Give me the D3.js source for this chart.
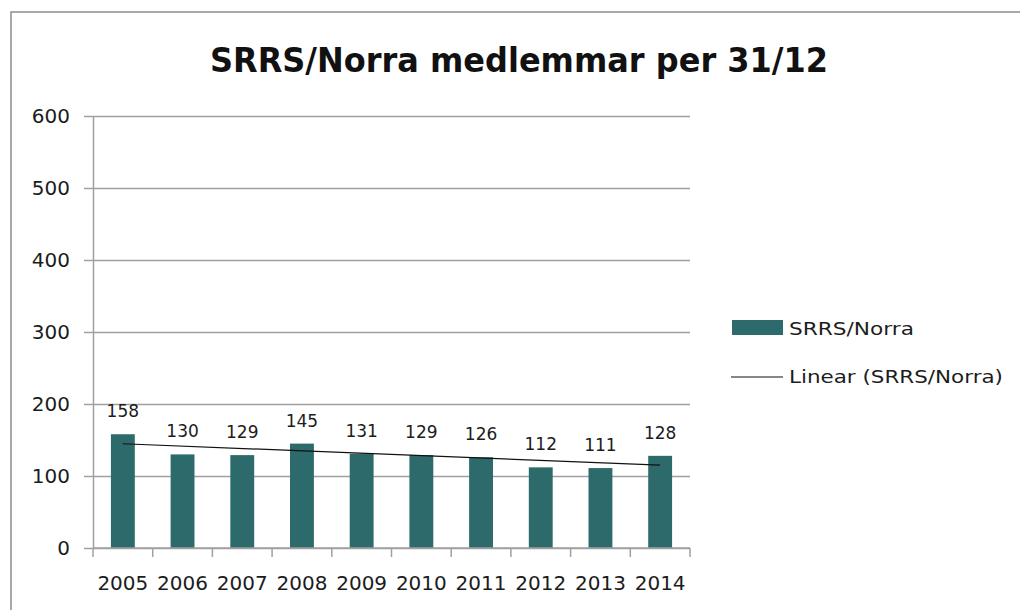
<!DOCTYPE html>
<html>
<head>
<meta charset="utf-8">
<script src="https://cdn.jsdelivr.net/npm/d3@7"></script>
<style>
  body { margin: 0; background: #fff; }
  svg { display: block; font-family: "DejaVu Sans", sans-serif; }
</style>
</head>
<body>
<div id="chart"></div>
<script>
const years = ['2005', '2006', '2007', '2008', '2009', '2010', '2011', '2012', '2013', '2014']
const members = [158, 130, 129, 145, 131, 129, 126, 112, 111, 128]
const yTicks = [0, 100, 200, 300, 400, 500, 600]
const seriesName = 'SRRS/Norra'
const trendName = 'Linear (SRRS/Norra)'
const titleText = 'SRRS/Norra medlemmar per 31/12'

const width = 1020
const height = 610
const plot = {left: 93, right: 690, top: 116, bottom: 548}
const barColor = '#2d6a6c'
const gridColor = '#a0a0a0'
const textColor = '#1c1c1c'

const svg = d3.select('#chart')
  .append('svg')
  .attr('width', width)
  .attr('height', height)

// outer chart frame
svg.append('rect')
  .attr('x', 11).attr('y', 12)
  .attr('width', width + 10).attr('height', height + 10)
  .attr('fill', 'none')
  .attr('stroke', '#8c8c8c')
  .attr('stroke-width', 1.5)

svg.append('text')
  .attr('x', 519).attr('y', 72)
  .attr('text-anchor', 'middle')
  .attr('font-size', 34)
  .attr('font-weight', 'bold')
  .attr('fill', '#111')
  .attr('textLength', 618)
  .attr('lengthAdjust', 'spacingAndGlyphs')
  .text(titleText)

const x = d3.scaleBand()
  .domain(years)
  .range([plot.left, plot.right])
  .paddingInner(0.6)
  .paddingOuter(0.3)

const y = d3.scaleLinear()
  .domain([0, 600])
  .range([plot.bottom, plot.top])

// gridlines
svg.append('g')
  .attr('transform', `translate(${plot.left},0)`)
  .call(d3.axisLeft(y).tickValues(yTicks).tickSize(-(plot.right - plot.left)).tickFormat(''))
  .call(g => g.select('.domain').remove())
  .call(g => g.selectAll('line').attr('stroke', gridColor).attr('stroke-width', 1.5))

// y axis
svg.append('g')
  .attr('transform', `translate(${plot.left},0)`)
  .call(d3.axisLeft(y).tickValues(yTicks).tickSize(9).tickSizeOuter(0).tickPadding(14))
  .call(g => g.select('.domain').attr('stroke', gridColor).attr('stroke-width', 1.5))
  .call(g => g.selectAll('line').attr('stroke', gridColor).attr('stroke-width', 1.5))
  .call(g => g.selectAll('text').attr('font-size', 20).attr('fill', textColor).attr('font-family', 'DejaVu Sans'))

// bars
svg.append('g')
  .selectAll('rect')
  .data(members)
  .enter()
  .append('rect')
  .attr('x', (d, i) => x(years[i]))
  .attr('y', d => y(d))
  .attr('width', x.bandwidth())
  .attr('height', d => y(0) - y(d))
  .attr('fill', barColor)

// x axis line and category boundary ticks
const xAxis = svg.append('g')
  .attr('transform', `translate(0,${plot.bottom})`)
xAxis.append('line')
  .attr('x1', plot.left).attr('x2', plot.right)
  .attr('stroke', gridColor).attr('stroke-width', 1.5)
const bounds = years.map(d => x(d) - x.step() * x.paddingOuter()).concat([plot.right])
xAxis.selectAll('.bound')
  .data(bounds)
  .enter()
  .append('line')
  .attr('class', 'bound')
  .attr('x1', d => d).attr('x2', d => d)
  .attr('y1', 0).attr('y2', 9)
  .attr('stroke', gridColor).attr('stroke-width', 1.5)

svg.append('g')
  .attr('transform', `translate(0,${plot.bottom})`)
  .call(d3.axisBottom(x).tickSize(0).tickPadding(28))
  .call(g => g.select('.domain').remove())
  .call(g => g.selectAll('text').attr('font-size', 20).attr('fill', textColor).attr('font-family', 'DejaVu Sans'))

// linear trendline (least squares, like Excel)
const idx = members.map((d, i) => i)
const mx = d3.mean(idx)
const my = d3.mean(members)
const slope = d3.sum(idx, i => (i - mx) * (members[i] - my)) / d3.sum(idx, i => (i - mx) * (i - mx))
const intercept = my - slope * mx
const trend = [0, members.length - 1].map(i => [x(years[i]) + x.bandwidth() / 2, y(intercept + slope * i)])
svg.append('path')
  .attr('d', d3.line()(trend))
  .attr('stroke', '#111')
  .attr('stroke-width', 1.2)
  .attr('fill', 'none')

// value labels
svg.append('g')
  .selectAll('text')
  .data(members)
  .enter()
  .append('text')
  .attr('x', (d, i) => x(years[i]) + x.bandwidth() / 2)
  .attr('y', d => y(d) - 17)
  .attr('text-anchor', 'middle')
  .attr('font-size', 17)
  .attr('fill', textColor)
  .text(d => d)

// legend
const legend = svg.append('g')
legend.append('rect')
  .attr('x', 732).attr('y', 320)
  .attr('width', 51).attr('height', 15)
  .attr('fill', barColor)
legend.append('text')
  .attr('x', 789).attr('y', 335)
  .attr('font-size', 18)
  .attr('fill', textColor)
  .attr('textLength', 125)
  .attr('lengthAdjust', 'spacingAndGlyphs')
  .text(seriesName)
legend.append('line')
  .attr('x1', 731).attr('x2', 783)
  .attr('y1', 377).attr('y2', 377)
  .attr('stroke', '#111').attr('stroke-width', 1.2)
legend.append('text')
  .attr('x', 789).attr('y', 383)
  .attr('font-size', 18)
  .attr('fill', textColor)
  .attr('textLength', 214)
  .attr('lengthAdjust', 'spacingAndGlyphs')
  .text(trendName)
</script>
</body>
</html>
